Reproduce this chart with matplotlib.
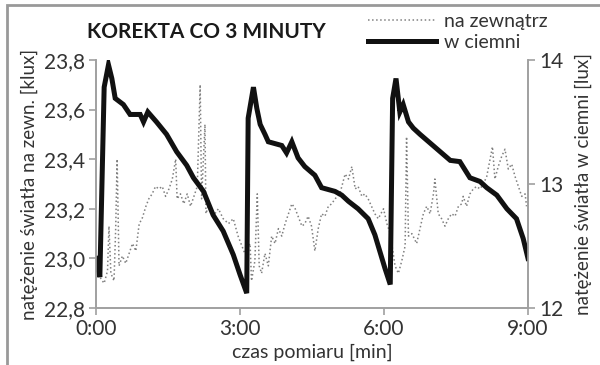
import matplotlib.pyplot as plt
from matplotlib.lines import Line2D
from matplotlib.patches import Rectangle
from matplotlib.ticker import FuncFormatter

plt.rcParams['font.family'] = ['Lato', 'DejaVu Sans']

# na zewnatrz [klux] (left axis), time in minutes
t_out = [0.00, 0.13, 0.17, 0.24, 0.27, 0.31, 0.375, 0.41, 0.44, 0.48,
         0.55, 0.62, 0.69, 0.76, 0.83, 0.90, 0.96, 1.04, 1.10, 1.17,
         1.24, 1.31, 1.38, 1.45, 1.52, 1.59, 1.66, 1.69, 1.76, 1.83,
         1.90, 1.97, 2.04, 2.11, 2.17, 2.20, 2.27, 2.29, 2.34, 2.44,
         2.55, 2.65, 2.76, 2.86, 2.96, 3.04, 3.10, 3.21, 3.24, 3.31,
         3.36, 3.40, 3.45, 3.52, 3.59, 3.66, 3.73, 3.80, 3.87, 3.94,
         4.01, 4.08, 4.15, 4.21, 4.29, 4.35, 4.42, 4.49, 4.56, 4.63,
         4.70, 4.77, 4.84, 4.91, 4.98, 5.08, 5.19, 5.26, 5.33, 5.40,
         5.46, 5.54, 5.60, 5.67, 5.74, 5.81, 5.88, 5.99, 6.06, 6.13,
         6.23, 6.30, 6.37, 6.44, 6.47, 6.51, 6.58, 6.68, 6.75, 6.82,
         6.89, 6.96, 7.03, 7.06, 7.13, 7.20, 7.27, 7.34, 7.41, 7.48,
         7.55, 7.62, 7.65, 7.72, 7.79, 7.86, 7.93, 8.00, 8.07, 8.14,
         8.21, 8.26, 8.31, 8.38, 8.45, 8.52, 8.59, 8.66, 8.73, 8.80,
         8.87, 8.94, 8.97]
v_out = [22.95, 22.91, 22.90, 22.95, 23.13, 22.94, 22.91, 23.12, 23.40, 22.97,
         23.01, 22.98, 23.02, 23.06, 23.03, 23.14, 23.16, 23.21, 23.24, 23.26,
         23.29, 23.28, 23.29, 23.25, 23.28, 23.32, 23.40, 23.24, 23.26, 23.22,
         23.26, 23.21, 23.25, 23.29, 23.70, 23.24, 23.54, 23.18, 23.21, 23.17,
         23.20, 23.16, 23.14, 23.16, 23.09, 23.05, 23.02, 23.06, 22.91, 22.99,
         23.26, 22.97, 22.94, 23.02, 22.97, 23.09, 23.06, 23.12, 23.09, 23.14,
         23.18, 23.22, 23.20, 23.17, 23.13, 23.14, 23.17, 23.13, 23.03, 23.12,
         23.18, 23.17, 23.21, 23.22, 23.24, 23.26, 23.34, 23.32, 23.37, 23.28,
         23.29, 23.25, 23.26, 23.24, 23.21, 23.18, 23.16, 23.20, 23.14, 23.10,
         22.97, 22.94, 22.99, 23.05, 23.49, 23.09, 23.10, 23.06, 23.12, 23.18,
         23.21, 23.18, 23.26, 23.32, 23.18, 23.16, 23.13, 23.16, 23.18, 23.17,
         23.21, 23.22, 23.25, 23.21, 23.26, 23.28, 23.29, 23.28, 23.30, 23.33,
         23.40, 23.45, 23.32, 23.37, 23.41, 23.44, 23.36, 23.38, 23.33, 23.29,
         23.25, 23.26, 23.21]

# w ciemni [lux] (right axis)
t_in = [0.00, 0.01, 0.08, 0.17, 0.26, 0.33, 0.40, 0.57, 0.71, 0.92,
        0.99, 1.08, 1.26, 1.47, 1.68, 1.89, 2.03, 2.24, 2.44, 2.65,
        2.86, 3.00, 3.14, 3.17, 3.28, 3.35, 3.42, 3.52, 3.59, 3.87,
        3.97, 4.08, 4.21, 4.35, 4.56, 4.70, 4.98, 5.12, 5.26, 5.46,
        5.67, 5.81, 6.02, 6.13, 6.18, 6.25, 6.33, 6.40, 6.51, 6.61,
        6.75, 6.96, 7.17, 7.38, 7.58, 7.79, 8.00, 8.14, 8.35, 8.56,
        8.76, 8.90, 9.00]
v_in = [12.40, 12.37, 12.25, 13.78, 13.96, 13.85, 13.69, 13.64, 13.56, 13.56,
        13.50, 13.58, 13.50, 13.40, 13.26, 13.15, 13.05, 12.94, 12.75, 12.62,
        12.43, 12.27, 12.12, 13.53, 13.78, 13.61, 13.48, 13.40, 13.34, 13.31,
        13.25, 13.34, 13.21, 13.14, 13.07, 12.97, 12.94, 12.91, 12.86, 12.80,
        12.72, 12.59, 12.32, 12.19, 13.69, 13.85, 13.58, 13.64, 13.50, 13.45,
        13.40, 13.33, 13.26, 13.19, 13.18, 13.05, 13.02, 12.97, 12.91, 12.80,
        12.72, 12.56, 12.40]

x_ticks = [0, 3, 6, 9]
x_labels = ['0:00', '3:00', '6:00', '9:00']

txt = '#333333'
spine = '#a0a0a0'

fig = plt.figure(figsize=(6, 3.65), dpi=100)
ax = fig.add_axes([0.16, 0.156, 0.72, 0.68])
ax2 = ax.twinx()

ax.plot(t_out, v_out, color='#808080', ls=':', lw=1.1)
ax2.plot(t_in, v_in, color='#111111', lw=3.6, solid_joinstyle='miter')

ax.set_xlim(0, 9)
ax.set_ylim(22.8, 23.8)
ax2.set_ylim(12, 14)
ax.set_xticks(x_ticks)
ax.set_xticklabels(x_labels)
ax.set_yticks([22.8, 23.0, 23.2, 23.4, 23.6, 23.8])
ax.yaxis.set_major_formatter(FuncFormatter(lambda v, p: f'{v:.1f}'.replace('.', ',')))
ax2.set_yticks([12, 13, 14])

for a in (ax, ax2):
    a.spines['top'].set_visible(False)
    for s in ('left', 'right', 'bottom'):
        a.spines[s].set_color(spine)
        a.spines[s].set_linewidth(1.2)
    a.tick_params(colors=txt, labelsize=15, length=5, width=1.2, color=spine, pad=3)

ax.set_xlabel('czas pomiaru [min]', fontsize=14, color=txt, labelpad=3)
ax.set_ylabel('natężenie światła na zewn. [klux]', fontsize=13.5, color=txt, labelpad=4)
ax2.set_ylabel('natężenie światła w ciemni [lux]', fontsize=13.5, color=txt, labelpad=8)

fig.text(87 / 600, 1 - 32 / 365, 'KOREKTA CO 3 MINUTY', fontsize=15, fontweight='bold',
         color='#1a1a1a', ha='left', va='center')

handles = [Line2D([], [], color='#808080', ls=':', lw=1.1),
           Line2D([], [], color='#111111', lw=3.6)]
fig.legend(handles, ['na zewnątrz', 'w ciemni'], loc='upper left',
           bbox_to_anchor=(358 / 600, 1 - 3 / 365), frameon=False, fontsize=14,
           handlelength=3.5, handletextpad=0.4, labelspacing=0.2,
           borderpad=0, labelcolor=txt)

fig.add_artist(Rectangle((7 / 600, -0.1), 1.2, 1 - 5 / 365 + 0.1, transform=fig.transFigure,
                         fill=False, ec='#999999', lw=2))

fig.savefig('out.png', dpi=100)
